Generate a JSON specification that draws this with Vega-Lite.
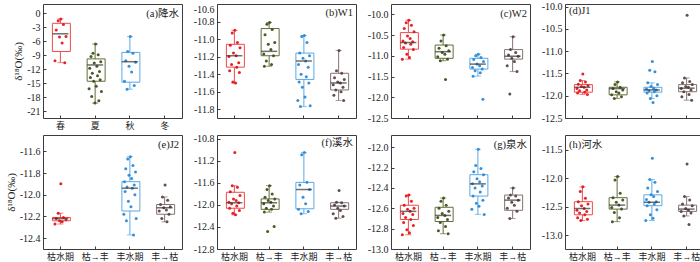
{
"$schema":"https://vega.github.io/schema/vega-lite/v6.json",
"padding":{"left":4,"top":1,"right":0,"bottom":0},
"background":"white",
"datasets":{
"box":[
{"p":"a","c":"春","lo":-10.6,"q1":-8.2,"med":-4.4,"q3":-2.15,"hi":-1.2},
{"p":"a","c":"夏","lo":-19.3,"q1":-14.6,"med":-11.1,"q3":-9.8,"hi":-6.6},
{"p":"a","c":"秋","lo":-16.3,"q1":-14.8,"med":-10.4,"q3":-8.4,"hi":-5.0},
{"p":"b","c":"枯水期","lo":-11.5,"q1":-11.32,"med":-11.19,"q3":-11.06,"hi":-10.9},
{"p":"b","c":"枯→丰","lo":-11.31,"q1":-11.19,"med":-11.14,"q3":-10.88,"hi":-10.81},
{"p":"b","c":"丰水期","lo":-11.77,"q1":-11.46,"med":-11.25,"q3":-11.16,"hi":-10.96},
{"p":"b","c":"丰→枯","lo":-11.7,"q1":-11.58,"med":-11.5,"q3":-11.39,"hi":-11.13},
{"p":"c","c":"枯水期","lo":-11.08,"q1":-10.84,"med":-10.68,"q3":-10.44,"hi":-10.14},
{"p":"c","c":"枯→丰","lo":-11.12,"q1":-11.06,"med":-10.9,"q3":-10.74,"hi":-10.5},
{"p":"c","c":"丰水期","lo":-11.49,"q1":-11.32,"med":-11.2,"q3":-11.06,"hi":-10.96},
{"p":"c","c":"丰→枯","lo":-11.38,"q1":-11.08,"med":-11.01,"q3":-10.85,"hi":-10.54},
{"p":"d","c":"枯水期","lo":-11.97,"q1":-11.92,"med":-11.81,"q3":-11.75,"hi":-11.66},
{"p":"d","c":"枯→丰","lo":-12.06,"q1":-11.98,"med":-11.84,"q3":-11.81,"hi":-11.69},
{"p":"d","c":"丰水期","lo":-12.06,"q1":-11.92,"med":-11.87,"q3":-11.81,"hi":-11.71},
{"p":"d","c":"丰→枯","lo":-12.1,"q1":-11.91,"med":-11.83,"q3":-11.75,"hi":-11.6},
{"p":"e","c":"枯水期","lo":-12.27,"q1":-12.24,"med":-12.22,"q3":-12.21,"hi":-12.17},
{"p":"e","c":"丰水期","lo":-12.37,"q1":-12.15,"med":-11.94,"q3":-11.88,"hi":-11.65},
{"p":"e","c":"丰→枯","lo":-12.25,"q1":-12.18,"med":-12.12,"q3":-12.09,"hi":-12.02},
{"p":"f","c":"枯水期","lo":-12.18,"q1":-12.06,"med":-11.96,"q3":-11.77,"hi":-11.65},
{"p":"f","c":"枯→丰","lo":-12.13,"q1":-12.08,"med":-11.96,"q3":-11.89,"hi":-11.65},
{"p":"f","c":"丰水期","lo":-12.16,"q1":-12.07,"med":-11.72,"q3":-11.59,"hi":-11.05},
{"p":"f","c":"丰→枯","lo":-12.24,"q1":-12.08,"med":-12.02,"q3":-11.96,"hi":-11.95},
{"p":"g","c":"枯水期","lo":-12.86,"q1":-12.71,"med":-12.63,"q3":-12.57,"hi":-12.47},
{"p":"g","c":"枯→丰","lo":-12.85,"q1":-12.73,"med":-12.67,"q3":-12.59,"hi":-12.5},
{"p":"g","c":"丰水期","lo":-12.66,"q1":-12.48,"med":-12.36,"q3":-12.27,"hi":-12.02},
{"p":"g","c":"丰→枯","lo":-12.7,"q1":-12.62,"med":-12.52,"q3":-12.47,"hi":-12.4},
{"p":"h","c":"枯水期","lo":-12.74,"q1":-12.64,"med":-12.53,"q3":-12.41,"hi":-12.15},
{"p":"h","c":"枯→丰","lo":-12.76,"q1":-12.54,"med":-12.47,"q3":-12.34,"hi":-11.97},
{"p":"h","c":"丰水期","lo":-12.74,"q1":-12.48,"med":-12.42,"q3":-12.29,"hi":-12.02},
{"p":"h","c":"丰→枯","lo":-12.66,"q1":-12.58,"med":-12.54,"q3":-12.47,"hi":-12.32}
],
"pts":[
{"p":"a","c":"春","i":1,"v":-1.2},{"p":"a","c":"春","i":2,"v":-1.6},{"p":"a","c":"春","i":3,"v":-2.4},{"p":"a","c":"春","i":4,"v":-3.6},{"p":"a","c":"春","i":5,"v":-5.0},{"p":"a","c":"春","i":6,"v":-5.1},{"p":"a","c":"春","i":7,"v":-6.4},{"p":"a","c":"春","i":8,"v":-10.2},{"p":"a","c":"春","i":9,"v":-10.6},
{"p":"a","c":"夏","i":1,"v":-6.6},{"p":"a","c":"夏","i":2,"v":-8.6},{"p":"a","c":"夏","i":3,"v":-8.9},{"p":"a","c":"夏","i":4,"v":-9.3},{"p":"a","c":"夏","i":5,"v":-10.4},{"p":"a","c":"夏","i":6,"v":-10.7},{"p":"a","c":"夏","i":7,"v":-11.4},{"p":"a","c":"夏","i":8,"v":-11.8},{"p":"a","c":"夏","i":9,"v":-12.5},{"p":"a","c":"夏","i":10,"v":-12.9},{"p":"a","c":"夏","i":11,"v":-13.4},{"p":"a","c":"夏","i":12,"v":-13.8},{"p":"a","c":"夏","i":13,"v":-14.3},{"p":"a","c":"夏","i":14,"v":-14.6},{"p":"a","c":"夏","i":15,"v":-15.7},{"p":"a","c":"夏","i":16,"v":-16.2},{"p":"a","c":"夏","i":17,"v":-16.8},{"p":"a","c":"夏","i":18,"v":-17.9},{"p":"a","c":"夏","i":19,"v":-18.8},{"p":"a","c":"夏","i":20,"v":-19.3},
{"p":"a","c":"秋","i":1,"v":-5.0},{"p":"a","c":"秋","i":2,"v":-8.2},{"p":"a","c":"秋","i":3,"v":-8.6},{"p":"a","c":"秋","i":4,"v":-10.2},{"p":"a","c":"秋","i":5,"v":-10.5},{"p":"a","c":"秋","i":6,"v":-11.4},{"p":"a","c":"秋","i":7,"v":-12.6},{"p":"a","c":"秋","i":8,"v":-14.6},{"p":"a","c":"秋","i":9,"v":-15.5},{"p":"a","c":"秋","i":10,"v":-16.3},
{"p":"b","c":"枯水期","i":1,"v":-10.9},{"p":"b","c":"枯水期","i":2,"v":-10.93},{"p":"b","c":"枯水期","i":3,"v":-11.04},{"p":"b","c":"枯水期","i":4,"v":-11.07},{"p":"b","c":"枯水期","i":5,"v":-11.1},{"p":"b","c":"枯水期","i":6,"v":-11.16},{"p":"b","c":"枯水期","i":7,"v":-11.19},{"p":"b","c":"枯水期","i":8,"v":-11.2},{"p":"b","c":"枯水期","i":9,"v":-11.27},{"p":"b","c":"枯水期","i":10,"v":-11.29},{"p":"b","c":"枯水期","i":11,"v":-11.32},{"p":"b","c":"枯水期","i":12,"v":-11.36},{"p":"b","c":"枯水期","i":13,"v":-11.38},{"p":"b","c":"枯水期","i":14,"v":-11.49},{"p":"b","c":"枯水期","i":15,"v":-11.5},
{"p":"b","c":"枯→丰","i":1,"v":-10.81},{"p":"b","c":"枯→丰","i":2,"v":-10.83},{"p":"b","c":"枯→丰","i":3,"v":-10.89},{"p":"b","c":"枯→丰","i":4,"v":-10.95},{"p":"b","c":"枯→丰","i":5,"v":-11.04},{"p":"b","c":"枯→丰","i":6,"v":-11.06},{"p":"b","c":"枯→丰","i":7,"v":-11.12},{"p":"b","c":"枯→丰","i":8,"v":-11.17},{"p":"b","c":"枯→丰","i":9,"v":-11.19},{"p":"b","c":"枯→丰","i":10,"v":-11.25},{"p":"b","c":"枯→丰","i":11,"v":-11.29},{"p":"b","c":"枯→丰","i":12,"v":-11.31},
{"p":"b","c":"丰水期","i":1,"v":-10.96},{"p":"b","c":"丰水期","i":2,"v":-10.97},{"p":"b","c":"丰水期","i":3,"v":-11.04},{"p":"b","c":"丰水期","i":4,"v":-11.16},{"p":"b","c":"丰水期","i":5,"v":-11.19},{"p":"b","c":"丰水期","i":6,"v":-11.22},{"p":"b","c":"丰水期","i":7,"v":-11.25},{"p":"b","c":"丰水期","i":8,"v":-11.29},{"p":"b","c":"丰水期","i":9,"v":-11.32},{"p":"b","c":"丰水期","i":10,"v":-11.4},{"p":"b","c":"丰水期","i":11,"v":-11.43},{"p":"b","c":"丰水期","i":12,"v":-11.49},{"p":"b","c":"丰水期","i":13,"v":-11.5},{"p":"b","c":"丰水期","i":14,"v":-11.55},{"p":"b","c":"丰水期","i":15,"v":-11.66},{"p":"b","c":"丰水期","i":16,"v":-11.7},{"p":"b","c":"丰水期","i":17,"v":-11.76},{"p":"b","c":"丰水期","i":18,"v":-11.77},
{"p":"b","c":"丰→枯","i":1,"v":-11.13},{"p":"b","c":"丰→枯","i":2,"v":-11.36},{"p":"b","c":"丰→枯","i":3,"v":-11.39},{"p":"b","c":"丰→枯","i":4,"v":-11.44},{"p":"b","c":"丰→枯","i":5,"v":-11.46},{"p":"b","c":"丰→枯","i":6,"v":-11.49},{"p":"b","c":"丰→枯","i":7,"v":-11.5},{"p":"b","c":"丰→枯","i":8,"v":-11.52},{"p":"b","c":"丰→枯","i":9,"v":-11.55},{"p":"b","c":"丰→枯","i":10,"v":-11.58},{"p":"b","c":"丰→枯","i":11,"v":-11.6},{"p":"b","c":"丰→枯","i":12,"v":-11.64},{"p":"b","c":"丰→枯","i":13,"v":-11.7},
{"p":"c","c":"枯水期","i":1,"v":-10.14},{"p":"c","c":"枯水期","i":2,"v":-10.2},{"p":"c","c":"枯水期","i":3,"v":-10.26},{"p":"c","c":"枯水期","i":4,"v":-10.34},{"p":"c","c":"枯水期","i":5,"v":-10.42},{"p":"c","c":"枯水期","i":6,"v":-10.52},{"p":"c","c":"枯水期","i":7,"v":-10.58},{"p":"c","c":"枯水期","i":8,"v":-10.64},{"p":"c","c":"枯水期","i":9,"v":-10.66},{"p":"c","c":"枯水期","i":10,"v":-10.69},{"p":"c","c":"枯水期","i":11,"v":-10.72},{"p":"c","c":"枯水期","i":12,"v":-10.8},{"p":"c","c":"枯水期","i":13,"v":-10.85},{"p":"c","c":"枯水期","i":14,"v":-10.96},{"p":"c","c":"枯水期","i":15,"v":-11.04},{"p":"c","c":"枯水期","i":16,"v":-11.08},
{"p":"c","c":"枯→丰","i":1,"v":-10.5},{"p":"c","c":"枯→丰","i":2,"v":-10.64},{"p":"c","c":"枯→丰","i":3,"v":-10.76},{"p":"c","c":"枯→丰","i":4,"v":-10.82},{"p":"c","c":"枯→丰","i":5,"v":-10.88},{"p":"c","c":"枯→丰","i":6,"v":-10.92},{"p":"c","c":"枯→丰","i":7,"v":-10.96},{"p":"c","c":"枯→丰","i":8,"v":-11.02},{"p":"c","c":"枯→丰","i":9,"v":-11.08},{"p":"c","c":"枯→丰","i":10,"v":-11.12},{"p":"c","c":"枯→丰","i":11,"v":-11.57},
{"p":"c","c":"丰水期","i":1,"v":-10.96},{"p":"c","c":"丰水期","i":2,"v":-11.0},{"p":"c","c":"丰水期","i":3,"v":-11.04},{"p":"c","c":"丰水期","i":4,"v":-11.09},{"p":"c","c":"丰水期","i":5,"v":-11.14},{"p":"c","c":"丰水期","i":6,"v":-11.2},{"p":"c","c":"丰水期","i":7,"v":-11.24},{"p":"c","c":"丰水期","i":8,"v":-11.28},{"p":"c","c":"丰水期","i":9,"v":-11.32},{"p":"c","c":"丰水期","i":10,"v":-11.36},{"p":"c","c":"丰水期","i":11,"v":-11.41},{"p":"c","c":"丰水期","i":12,"v":-11.49},{"p":"c","c":"丰水期","i":13,"v":-12.05},
{"p":"c","c":"丰→枯","i":1,"v":-10.54},{"p":"c","c":"丰→枯","i":2,"v":-10.85},{"p":"c","c":"丰→枯","i":3,"v":-10.92},{"p":"c","c":"丰→枯","i":4,"v":-10.98},{"p":"c","c":"丰→枯","i":5,"v":-11.01},{"p":"c","c":"丰→枯","i":6,"v":-11.06},{"p":"c","c":"丰→枯","i":7,"v":-11.14},{"p":"c","c":"丰→枯","i":8,"v":-11.24},{"p":"c","c":"丰→枯","i":9,"v":-11.38},{"p":"c","c":"丰→枯","i":10,"v":-11.92},
{"p":"d","c":"枯水期","i":1,"v":-11.51},{"p":"d","c":"枯水期","i":2,"v":-11.66},{"p":"d","c":"枯水期","i":3,"v":-11.69},{"p":"d","c":"枯水期","i":4,"v":-11.74},{"p":"d","c":"枯水期","i":5,"v":-11.77},{"p":"d","c":"枯水期","i":6,"v":-11.79},{"p":"d","c":"枯水期","i":7,"v":-11.81},{"p":"d","c":"枯水期","i":8,"v":-11.84},{"p":"d","c":"枯水期","i":9,"v":-11.87},{"p":"d","c":"枯水期","i":10,"v":-11.89},{"p":"d","c":"枯水期","i":11,"v":-11.92},{"p":"d","c":"枯水期","i":12,"v":-11.94},{"p":"d","c":"枯水期","i":13,"v":-11.97},
{"p":"d","c":"枯→丰","i":1,"v":-11.69},{"p":"d","c":"枯→丰","i":2,"v":-11.75},{"p":"d","c":"枯→丰","i":3,"v":-11.81},{"p":"d","c":"枯→丰","i":4,"v":-11.84},{"p":"d","c":"枯→丰","i":5,"v":-11.87},{"p":"d","c":"枯→丰","i":6,"v":-11.91},{"p":"d","c":"枯→丰","i":7,"v":-11.94},{"p":"d","c":"枯→丰","i":8,"v":-11.98},{"p":"d","c":"枯→丰","i":9,"v":-12.02},{"p":"d","c":"枯→丰","i":10,"v":-12.06},
{"p":"d","c":"丰水期","i":1,"v":-11.23},{"p":"d","c":"丰水期","i":2,"v":-11.43},{"p":"d","c":"丰水期","i":3,"v":-11.46},{"p":"d","c":"丰水期","i":4,"v":-11.71},{"p":"d","c":"丰水期","i":5,"v":-11.75},{"p":"d","c":"丰水期","i":6,"v":-11.79},{"p":"d","c":"丰水期","i":7,"v":-11.83},{"p":"d","c":"丰水期","i":8,"v":-11.85},{"p":"d","c":"丰水期","i":9,"v":-11.87},{"p":"d","c":"丰水期","i":10,"v":-11.89},{"p":"d","c":"丰水期","i":11,"v":-11.91},{"p":"d","c":"丰水期","i":12,"v":-11.94},{"p":"d","c":"丰水期","i":13,"v":-12.0},{"p":"d","c":"丰水期","i":14,"v":-12.06},{"p":"d","c":"丰水期","i":15,"v":-12.15},
{"p":"d","c":"丰→枯","i":1,"v":-10.19},{"p":"d","c":"丰→枯","i":2,"v":-11.6},{"p":"d","c":"丰→枯","i":3,"v":-11.68},{"p":"d","c":"丰→枯","i":4,"v":-11.71},{"p":"d","c":"丰→枯","i":5,"v":-11.75},{"p":"d","c":"丰→枯","i":6,"v":-11.79},{"p":"d","c":"丰→枯","i":7,"v":-11.81},{"p":"d","c":"丰→枯","i":8,"v":-11.84},{"p":"d","c":"丰→枯","i":9,"v":-11.87},{"p":"d","c":"丰→枯","i":10,"v":-11.91},{"p":"d","c":"丰→枯","i":11,"v":-11.97},{"p":"d","c":"丰→枯","i":12,"v":-12.02},{"p":"d","c":"丰→枯","i":13,"v":-12.1},
{"p":"e","c":"枯水期","i":1,"v":-11.9},{"p":"e","c":"枯水期","i":2,"v":-12.17},{"p":"e","c":"枯水期","i":3,"v":-12.21},{"p":"e","c":"枯水期","i":4,"v":-12.22},{"p":"e","c":"枯水期","i":5,"v":-12.23},{"p":"e","c":"枯水期","i":6,"v":-12.24},{"p":"e","c":"枯水期","i":7,"v":-12.25},{"p":"e","c":"枯水期","i":8,"v":-12.27},
{"p":"e","c":"丰水期","i":1,"v":-11.65},{"p":"e","c":"丰水期","i":2,"v":-11.67},{"p":"e","c":"丰水期","i":3,"v":-11.73},{"p":"e","c":"丰水期","i":4,"v":-11.76},{"p":"e","c":"丰水期","i":5,"v":-11.79},{"p":"e","c":"丰水期","i":6,"v":-11.82},{"p":"e","c":"丰水期","i":7,"v":-11.85},{"p":"e","c":"丰水期","i":8,"v":-11.88},{"p":"e","c":"丰水期","i":9,"v":-11.91},{"p":"e","c":"丰水期","i":10,"v":-11.93},{"p":"e","c":"丰水期","i":11,"v":-11.94},{"p":"e","c":"丰水期","i":12,"v":-11.97},{"p":"e","c":"丰水期","i":13,"v":-12.0},{"p":"e","c":"丰水期","i":14,"v":-12.06},{"p":"e","c":"丰水期","i":15,"v":-12.11},{"p":"e","c":"丰水期","i":16,"v":-12.18},{"p":"e","c":"丰水期","i":17,"v":-12.22},{"p":"e","c":"丰水期","i":18,"v":-12.24},{"p":"e","c":"丰水期","i":19,"v":-12.37},
{"p":"e","c":"丰→枯","i":1,"v":-11.91},{"p":"e","c":"丰→枯","i":2,"v":-12.02},{"p":"e","c":"丰→枯","i":3,"v":-12.05},{"p":"e","c":"丰→枯","i":4,"v":-12.09},{"p":"e","c":"丰→枯","i":5,"v":-12.11},{"p":"e","c":"丰→枯","i":6,"v":-12.12},{"p":"e","c":"丰→枯","i":7,"v":-12.14},{"p":"e","c":"丰→枯","i":8,"v":-12.15},{"p":"e","c":"丰→枯","i":9,"v":-12.18},{"p":"e","c":"丰→枯","i":10,"v":-12.22},{"p":"e","c":"丰→枯","i":11,"v":-12.25},
{"p":"f","c":"枯水期","i":1,"v":-11.05},{"p":"f","c":"枯水期","i":2,"v":-11.65},{"p":"f","c":"枯水期","i":3,"v":-11.68},{"p":"f","c":"枯水期","i":4,"v":-11.76},{"p":"f","c":"枯水期","i":5,"v":-11.83},{"p":"f","c":"枯水期","i":6,"v":-11.89},{"p":"f","c":"枯水期","i":7,"v":-11.92},{"p":"f","c":"枯水期","i":8,"v":-11.95},{"p":"f","c":"枯水期","i":9,"v":-11.96},{"p":"f","c":"枯水期","i":10,"v":-11.98},{"p":"f","c":"枯水期","i":11,"v":-12.02},{"p":"f","c":"枯水期","i":12,"v":-12.06},{"p":"f","c":"枯水期","i":13,"v":-12.1},{"p":"f","c":"枯水期","i":14,"v":-12.15},{"p":"f","c":"枯水期","i":15,"v":-12.18},
{"p":"f","c":"枯→丰","i":1,"v":-11.65},{"p":"f","c":"枯→丰","i":2,"v":-11.72},{"p":"f","c":"枯→丰","i":3,"v":-11.8},{"p":"f","c":"枯→丰","i":4,"v":-11.86},{"p":"f","c":"枯→丰","i":5,"v":-11.89},{"p":"f","c":"枯→丰","i":6,"v":-11.92},{"p":"f","c":"枯→丰","i":7,"v":-11.95},{"p":"f","c":"枯→丰","i":8,"v":-11.98},{"p":"f","c":"枯→丰","i":9,"v":-12.02},{"p":"f","c":"枯→丰","i":10,"v":-12.06},{"p":"f","c":"枯→丰","i":11,"v":-12.08},{"p":"f","c":"枯→丰","i":12,"v":-12.13},{"p":"f","c":"枯→丰","i":13,"v":-12.39},{"p":"f","c":"枯→丰","i":14,"v":-12.48},
{"p":"f","c":"丰水期","i":1,"v":-11.05},{"p":"f","c":"丰水期","i":2,"v":-11.09},{"p":"f","c":"丰水期","i":3,"v":-11.59},{"p":"f","c":"丰水期","i":4,"v":-11.64},{"p":"f","c":"丰水期","i":5,"v":-11.72},{"p":"f","c":"丰水期","i":6,"v":-11.86},{"p":"f","c":"丰水期","i":7,"v":-11.98},{"p":"f","c":"丰水期","i":8,"v":-12.08},{"p":"f","c":"丰水期","i":9,"v":-12.12},{"p":"f","c":"丰水期","i":10,"v":-12.16},
{"p":"f","c":"丰→枯","i":1,"v":-11.74},{"p":"f","c":"丰→枯","i":2,"v":-11.95},{"p":"f","c":"丰→枯","i":3,"v":-11.96},{"p":"f","c":"丰→枯","i":4,"v":-12.0},{"p":"f","c":"丰→枯","i":5,"v":-12.02},{"p":"f","c":"丰→枯","i":6,"v":-12.06},{"p":"f","c":"丰→枯","i":7,"v":-12.1},{"p":"f","c":"丰→枯","i":8,"v":-12.16},{"p":"f","c":"丰→枯","i":9,"v":-12.21},{"p":"f","c":"丰→枯","i":10,"v":-12.24},
{"p":"g","c":"枯水期","i":1,"v":-12.47},{"p":"g","c":"枯水期","i":2,"v":-12.48},{"p":"g","c":"枯水期","i":3,"v":-12.53},{"p":"g","c":"枯水期","i":4,"v":-12.57},{"p":"g","c":"枯水期","i":5,"v":-12.6},{"p":"g","c":"枯水期","i":6,"v":-12.61},{"p":"g","c":"枯水期","i":7,"v":-12.63},{"p":"g","c":"枯水期","i":8,"v":-12.65},{"p":"g","c":"枯水期","i":9,"v":-12.66},{"p":"g","c":"枯水期","i":10,"v":-12.69},{"p":"g","c":"枯水期","i":11,"v":-12.71},{"p":"g","c":"枯水期","i":12,"v":-12.74},{"p":"g","c":"枯水期","i":13,"v":-12.77},{"p":"g","c":"枯水期","i":14,"v":-12.81},{"p":"g","c":"枯水期","i":15,"v":-12.84},{"p":"g","c":"枯水期","i":16,"v":-12.86},
{"p":"g","c":"枯→丰","i":1,"v":-12.5},{"p":"g","c":"枯→丰","i":2,"v":-12.53},{"p":"g","c":"枯→丰","i":3,"v":-12.57},{"p":"g","c":"枯→丰","i":4,"v":-12.6},{"p":"g","c":"枯→丰","i":5,"v":-12.63},{"p":"g","c":"枯→丰","i":6,"v":-12.65},{"p":"g","c":"枯→丰","i":7,"v":-12.67},{"p":"g","c":"枯→丰","i":8,"v":-12.69},{"p":"g","c":"枯→丰","i":9,"v":-12.71},{"p":"g","c":"枯→丰","i":10,"v":-12.74},{"p":"g","c":"枯→丰","i":11,"v":-12.78},{"p":"g","c":"枯→丰","i":12,"v":-12.82},{"p":"g","c":"枯→丰","i":13,"v":-12.85},
{"p":"g","c":"丰水期","i":1,"v":-12.02},{"p":"g","c":"丰水期","i":2,"v":-12.18},{"p":"g","c":"丰水期","i":3,"v":-12.21},{"p":"g","c":"丰水期","i":4,"v":-12.24},{"p":"g","c":"丰水期","i":5,"v":-12.27},{"p":"g","c":"丰水期","i":6,"v":-12.31},{"p":"g","c":"丰水期","i":7,"v":-12.34},{"p":"g","c":"丰水期","i":8,"v":-12.36},{"p":"g","c":"丰水期","i":9,"v":-12.38},{"p":"g","c":"丰水期","i":10,"v":-12.4},{"p":"g","c":"丰水期","i":11,"v":-12.44},{"p":"g","c":"丰水期","i":12,"v":-12.48},{"p":"g","c":"丰水期","i":13,"v":-12.52},{"p":"g","c":"丰水期","i":14,"v":-12.55},{"p":"g","c":"丰水期","i":15,"v":-12.58},{"p":"g","c":"丰水期","i":16,"v":-12.61},{"p":"g","c":"丰水期","i":17,"v":-12.66},
{"p":"g","c":"丰→枯","i":1,"v":-12.4},{"p":"g","c":"丰→枯","i":2,"v":-12.47},{"p":"g","c":"丰→枯","i":3,"v":-12.48},{"p":"g","c":"丰→枯","i":4,"v":-12.5},{"p":"g","c":"丰→枯","i":5,"v":-12.52},{"p":"g","c":"丰→枯","i":6,"v":-12.54},{"p":"g","c":"丰→枯","i":7,"v":-12.57},{"p":"g","c":"丰→枯","i":8,"v":-12.6},{"p":"g","c":"丰→枯","i":9,"v":-12.63},{"p":"g","c":"丰→枯","i":10,"v":-12.7},
{"p":"h","c":"枯水期","i":1,"v":-12.15},{"p":"h","c":"枯水期","i":2,"v":-12.23},{"p":"h","c":"枯水期","i":3,"v":-12.35},{"p":"h","c":"枯水期","i":4,"v":-12.41},{"p":"h","c":"枯水期","i":5,"v":-12.45},{"p":"h","c":"枯水期","i":6,"v":-12.48},{"p":"h","c":"枯水期","i":7,"v":-12.53},{"p":"h","c":"枯水期","i":8,"v":-12.56},{"p":"h","c":"枯水期","i":9,"v":-12.58},{"p":"h","c":"枯水期","i":10,"v":-12.61},{"p":"h","c":"枯水期","i":11,"v":-12.64},{"p":"h","c":"枯水期","i":12,"v":-12.69},{"p":"h","c":"枯水期","i":13,"v":-12.72},{"p":"h","c":"枯水期","i":14,"v":-12.74},
{"p":"h","c":"枯→丰","i":1,"v":-11.97},{"p":"h","c":"枯→丰","i":2,"v":-12.03},{"p":"h","c":"枯→丰","i":3,"v":-12.26},{"p":"h","c":"枯→丰","i":4,"v":-12.34},{"p":"h","c":"枯→丰","i":5,"v":-12.38},{"p":"h","c":"枯→丰","i":6,"v":-12.42},{"p":"h","c":"枯→丰","i":7,"v":-12.47},{"p":"h","c":"枯→丰","i":8,"v":-12.51},{"p":"h","c":"枯→丰","i":9,"v":-12.54},{"p":"h","c":"枯→丰","i":10,"v":-12.6},{"p":"h","c":"枯→丰","i":11,"v":-12.69},{"p":"h","c":"枯→丰","i":12,"v":-12.76},
{"p":"h","c":"丰水期","i":1,"v":-11.65},{"p":"h","c":"丰水期","i":2,"v":-12.02},{"p":"h","c":"丰水期","i":3,"v":-12.07},{"p":"h","c":"丰水期","i":4,"v":-12.17},{"p":"h","c":"丰水期","i":5,"v":-12.23},{"p":"h","c":"丰水期","i":6,"v":-12.29},{"p":"h","c":"丰水期","i":7,"v":-12.32},{"p":"h","c":"丰水期","i":8,"v":-12.37},{"p":"h","c":"丰水期","i":9,"v":-12.41},{"p":"h","c":"丰水期","i":10,"v":-12.42},{"p":"h","c":"丰水期","i":11,"v":-12.45},{"p":"h","c":"丰水期","i":12,"v":-12.48},{"p":"h","c":"丰水期","i":13,"v":-12.55},{"p":"h","c":"丰水期","i":14,"v":-12.64},{"p":"h","c":"丰水期","i":15,"v":-12.7},{"p":"h","c":"丰水期","i":16,"v":-12.74},
{"p":"h","c":"丰→枯","i":1,"v":-11.75},{"p":"h","c":"丰→枯","i":2,"v":-12.32},{"p":"h","c":"丰→枯","i":3,"v":-12.38},{"p":"h","c":"丰→枯","i":4,"v":-12.45},{"p":"h","c":"丰→枯","i":5,"v":-12.48},{"p":"h","c":"丰→枯","i":6,"v":-12.53},{"p":"h","c":"丰→枯","i":7,"v":-12.56},{"p":"h","c":"丰→枯","i":8,"v":-12.58},{"p":"h","c":"丰→枯","i":9,"v":-12.61},{"p":"h","c":"丰→枯","i":10,"v":-12.66},{"p":"h","c":"丰→枯","i":11,"v":-12.81}
]
},
"columns":4,
"spacing":{"row":17,"column":35},
"bounds":"flush",
"concat":[
{"width":139,"height":114,
"title":{"text":"(a)降水","anchor":"end","frame":"group","offset":-15,"dx":-3},
"encoding":{"x":{"field":"c","type":"nominal","sort":null,"scale":{"domain":["春","夏","秋","冬"],"paddingInner":0,"paddingOuter":0},"axis":{"title":null,"labelAngle":0}}},
"layer":[
{"data":{"name":"box"},"transform":[{"filter":"datum.p=='a'"}],"mark":{"type":"rule","strokeWidth":1},"encoding":{"y":{"field":"lo","type":"quantitative","scale":{"domain":[-22.5,2],"nice":false,"zero":false},"axis":{"title":"δ¹⁸O(‰)","values":[0,-3,-6,-9,-12,-15,-18,-21],"tickCount":30,"format":"d","labelOverlap":false}},"y2":{"field":"hi"},"stroke":{"field":"c","type":"nominal","scale":{"domain":["春","夏","秋","冬","枯水期","枯→丰","丰水期","丰→枯"],"range":["#f0494c","#5f6e3c","#5aa8e6","#857272","#f0494c","#5f6e3c","#5aa8e6","#857272"]},"legend":null}}},
{"data":{"name":"box"},"transform":[{"filter":"datum.p=='a'"}],"mark":{"type":"tick","thickness":1,"size":6},"encoding":{"y":{"field":"lo","type":"quantitative"},"fill":{"field":"c","type":"nominal","scale":{"domain":["春","夏","秋","冬","枯水期","枯→丰","丰水期","丰→枯"],"range":["#f0494c","#5f6e3c","#5aa8e6","#857272","#f0494c","#5f6e3c","#5aa8e6","#857272"]},"legend":null}}},
{"data":{"name":"box"},"transform":[{"filter":"datum.p=='a'"}],"mark":{"type":"tick","thickness":1,"size":6},"encoding":{"y":{"field":"hi","type":"quantitative"},"fill":{"field":"c","type":"nominal","legend":null}}},
{"data":{"name":"box"},"transform":[{"filter":"datum.p=='a'"}],"mark":{"type":"bar","fill":"white","strokeWidth":1,"width":{"band":0.46}},"encoding":{"y":{"field":"q1","type":"quantitative"},"y2":{"field":"q3"},"stroke":{"field":"c","type":"nominal","legend":null}}},
{"data":{"name":"pts"},"transform":[{"filter":"datum.p=='a'"}],"mark":{"type":"circle","size":9,"opacity":0.95},"encoding":{"y":{"field":"v","type":"quantitative"},"xOffset":{"field":"i","type":"nominal","scale":{"domain":[16,8,12,4,18,10,2,14,6,20,1,15,7,11,3,19,9,13,5,17],"range":[11,24]}},"color":{"field":"c","type":"nominal","scale":{"domain":["春","夏","秋","冬","枯水期","枯→丰","丰水期","丰→枯"],"range":["#e3171c","#3f5217","#2a8ad8","#5a4545","#e3171c","#3f5217","#2a8ad8","#5a4545"]},"legend":null}}},
{"data":{"name":"box"},"transform":[{"filter":"datum.p=='a'"}],"mark":{"type":"tick","thickness":1.5,"size":16,"color":"#333333"},"encoding":{"y":{"field":"med","type":"quantitative"}}}
]},
{"width":139,"height":114,
"title":{"text":"(b)W1","anchor":"end","frame":"group","offset":-15,"dx":-3},
"encoding":{"x":{"field":"c","type":"nominal","sort":null,"scale":{"domain":["枯水期","枯→丰","丰水期","丰→枯"],"paddingInner":0,"paddingOuter":0},"axis":{"title":null,"labels":false}}},
"layer":[
{"data":{"name":"box"},"transform":[{"filter":"datum.p=='b'"}],"mark":{"type":"rule","strokeWidth":1},"encoding":{"y":{"field":"lo","type":"quantitative","scale":{"domain":[-11.9,-10.6],"nice":false,"zero":false},"axis":{"title":null,"values":[-10.6,-10.8,-11.0,-11.2,-11.4,-11.6,-11.8],"tickCount":30,"format":".1f","labelFlush":true,"labelOverlap":false}},"y2":{"field":"hi"},"stroke":{"field":"c","type":"nominal","scale":{"domain":["春","夏","秋","冬","枯水期","枯→丰","丰水期","丰→枯"],"range":["#f0494c","#5f6e3c","#5aa8e6","#857272","#f0494c","#5f6e3c","#5aa8e6","#857272"]},"legend":null}}},
{"data":{"name":"box"},"transform":[{"filter":"datum.p=='b'"}],"mark":{"type":"tick","thickness":1,"size":6},"encoding":{"y":{"field":"lo","type":"quantitative"},"fill":{"field":"c","type":"nominal","scale":{"domain":["春","夏","秋","冬","枯水期","枯→丰","丰水期","丰→枯"],"range":["#f0494c","#5f6e3c","#5aa8e6","#857272","#f0494c","#5f6e3c","#5aa8e6","#857272"]},"legend":null}}},
{"data":{"name":"box"},"transform":[{"filter":"datum.p=='b'"}],"mark":{"type":"tick","thickness":1,"size":6},"encoding":{"y":{"field":"hi","type":"quantitative"},"fill":{"field":"c","type":"nominal","legend":null}}},
{"data":{"name":"box"},"transform":[{"filter":"datum.p=='b'"}],"mark":{"type":"bar","fill":"white","strokeWidth":1,"width":{"band":0.46}},"encoding":{"y":{"field":"q1","type":"quantitative"},"y2":{"field":"q3"},"stroke":{"field":"c","type":"nominal","legend":null}}},
{"data":{"name":"pts"},"transform":[{"filter":"datum.p=='b'"}],"mark":{"type":"circle","size":9,"opacity":0.95},"encoding":{"y":{"field":"v","type":"quantitative"},"xOffset":{"field":"i","type":"nominal","scale":{"domain":[16,8,12,4,18,10,2,14,6,20,1,15,7,11,3,19,9,13,5,17],"range":[11,24]}},"color":{"field":"c","type":"nominal","scale":{"domain":["春","夏","秋","冬","枯水期","枯→丰","丰水期","丰→枯"],"range":["#e3171c","#3f5217","#2a8ad8","#5a4545","#e3171c","#3f5217","#2a8ad8","#5a4545"]},"legend":null}}},
{"data":{"name":"box"},"transform":[{"filter":"datum.p=='b'"}],"mark":{"type":"tick","thickness":1.5,"size":16,"color":"#333333"},"encoding":{"y":{"field":"med","type":"quantitative"}}}
]},
{"width":139,"height":114,
"title":{"text":"(c)W2","anchor":"end","frame":"group","offset":-15,"dx":-3},
"encoding":{"x":{"field":"c","type":"nominal","sort":null,"scale":{"domain":["枯水期","枯→丰","丰水期","丰→枯"],"paddingInner":0,"paddingOuter":0},"axis":{"title":null,"labels":false}}},
"layer":[
{"data":{"name":"box"},"transform":[{"filter":"datum.p=='c'"}],"mark":{"type":"rule","strokeWidth":1},"encoding":{"y":{"field":"lo","type":"quantitative","scale":{"domain":[-12.5,-9.75],"nice":false,"zero":false},"axis":{"title":null,"values":[-10.0,-10.5,-11.0,-11.5,-12.0,-12.5],"tickCount":30,"format":".1f","labelOverlap":false}},"y2":{"field":"hi"},"stroke":{"field":"c","type":"nominal","scale":{"domain":["春","夏","秋","冬","枯水期","枯→丰","丰水期","丰→枯"],"range":["#f0494c","#5f6e3c","#5aa8e6","#857272","#f0494c","#5f6e3c","#5aa8e6","#857272"]},"legend":null}}},
{"data":{"name":"box"},"transform":[{"filter":"datum.p=='c'"}],"mark":{"type":"tick","thickness":1,"size":6},"encoding":{"y":{"field":"lo","type":"quantitative"},"fill":{"field":"c","type":"nominal","scale":{"domain":["春","夏","秋","冬","枯水期","枯→丰","丰水期","丰→枯"],"range":["#f0494c","#5f6e3c","#5aa8e6","#857272","#f0494c","#5f6e3c","#5aa8e6","#857272"]},"legend":null}}},
{"data":{"name":"box"},"transform":[{"filter":"datum.p=='c'"}],"mark":{"type":"tick","thickness":1,"size":6},"encoding":{"y":{"field":"hi","type":"quantitative"},"fill":{"field":"c","type":"nominal","legend":null}}},
{"data":{"name":"box"},"transform":[{"filter":"datum.p=='c'"}],"mark":{"type":"bar","fill":"white","strokeWidth":1,"width":{"band":0.46}},"encoding":{"y":{"field":"q1","type":"quantitative"},"y2":{"field":"q3"},"stroke":{"field":"c","type":"nominal","legend":null}}},
{"data":{"name":"pts"},"transform":[{"filter":"datum.p=='c'"}],"mark":{"type":"circle","size":9,"opacity":0.95},"encoding":{"y":{"field":"v","type":"quantitative"},"xOffset":{"field":"i","type":"nominal","scale":{"domain":[16,8,12,4,18,10,2,14,6,20,1,15,7,11,3,19,9,13,5,17],"range":[11,24]}},"color":{"field":"c","type":"nominal","scale":{"domain":["春","夏","秋","冬","枯水期","枯→丰","丰水期","丰→枯"],"range":["#e3171c","#3f5217","#2a8ad8","#5a4545","#e3171c","#3f5217","#2a8ad8","#5a4545"]},"legend":null}}},
{"data":{"name":"box"},"transform":[{"filter":"datum.p=='c'"}],"mark":{"type":"tick","thickness":1.5,"size":16,"color":"#333333"},"encoding":{"y":{"field":"med","type":"quantitative"}}}
]},
{"width":139,"height":114,
"title":{"text":"(d)J1","anchor":"start","frame":"group","offset":-15,"dx":4},
"encoding":{"x":{"field":"c","type":"nominal","sort":null,"scale":{"domain":["枯水期","枯→丰","丰水期","丰→枯"],"paddingInner":0,"paddingOuter":0},"axis":{"title":null,"labels":false}}},
"layer":[
{"data":{"name":"box"},"transform":[{"filter":"datum.p=='d'"}],"mark":{"type":"rule","strokeWidth":1},"encoding":{"y":{"field":"lo","type":"quantitative","scale":{"domain":[-12.5,-9.94],"nice":false,"zero":false},"axis":{"title":null,"values":[-10.0,-10.5,-11.0,-11.5,-12.0,-12.5],"tickCount":30,"format":".1f","labelOverlap":false}},"y2":{"field":"hi"},"stroke":{"field":"c","type":"nominal","scale":{"domain":["春","夏","秋","冬","枯水期","枯→丰","丰水期","丰→枯"],"range":["#f0494c","#5f6e3c","#5aa8e6","#857272","#f0494c","#5f6e3c","#5aa8e6","#857272"]},"legend":null}}},
{"data":{"name":"box"},"transform":[{"filter":"datum.p=='d'"}],"mark":{"type":"tick","thickness":1,"size":6},"encoding":{"y":{"field":"lo","type":"quantitative"},"fill":{"field":"c","type":"nominal","scale":{"domain":["春","夏","秋","冬","枯水期","枯→丰","丰水期","丰→枯"],"range":["#f0494c","#5f6e3c","#5aa8e6","#857272","#f0494c","#5f6e3c","#5aa8e6","#857272"]},"legend":null}}},
{"data":{"name":"box"},"transform":[{"filter":"datum.p=='d'"}],"mark":{"type":"tick","thickness":1,"size":6},"encoding":{"y":{"field":"hi","type":"quantitative"},"fill":{"field":"c","type":"nominal","legend":null}}},
{"data":{"name":"box"},"transform":[{"filter":"datum.p=='d'"}],"mark":{"type":"bar","fill":"white","strokeWidth":1,"width":{"band":0.46}},"encoding":{"y":{"field":"q1","type":"quantitative"},"y2":{"field":"q3"},"stroke":{"field":"c","type":"nominal","legend":null}}},
{"data":{"name":"pts"},"transform":[{"filter":"datum.p=='d'"}],"mark":{"type":"circle","size":9,"opacity":0.95},"encoding":{"y":{"field":"v","type":"quantitative"},"xOffset":{"field":"i","type":"nominal","scale":{"domain":[16,8,12,4,18,10,2,14,6,20,1,15,7,11,3,19,9,13,5,17],"range":[11,24]}},"color":{"field":"c","type":"nominal","scale":{"domain":["春","夏","秋","冬","枯水期","枯→丰","丰水期","丰→枯"],"range":["#e3171c","#3f5217","#2a8ad8","#5a4545","#e3171c","#3f5217","#2a8ad8","#5a4545"]},"legend":null}}},
{"data":{"name":"box"},"transform":[{"filter":"datum.p=='d'"}],"mark":{"type":"tick","thickness":1.5,"size":16,"color":"#333333"},"encoding":{"y":{"field":"med","type":"quantitative"}}}
]},
{"width":139,"height":114,
"title":{"text":"(e)J2","anchor":"end","frame":"group","offset":-15,"dx":-3},
"encoding":{"x":{"field":"c","type":"nominal","sort":null,"scale":{"domain":["枯水期","枯→丰","丰水期","丰→枯"],"paddingInner":0,"paddingOuter":0},"axis":{"title":null,"labelAngle":0}}},
"layer":[
{"data":{"name":"box"},"transform":[{"filter":"datum.p=='e'"}],"mark":{"type":"rule","strokeWidth":1},"encoding":{"y":{"field":"lo","type":"quantitative","scale":{"domain":[-12.5,-11.45],"nice":false,"zero":false},"axis":{"title":"δ¹⁸O(‰)","values":[-11.6,-11.8,-12.0,-12.2,-12.4],"tickCount":30,"format":".1f","labelOverlap":false}},"y2":{"field":"hi"},"stroke":{"field":"c","type":"nominal","scale":{"domain":["春","夏","秋","冬","枯水期","枯→丰","丰水期","丰→枯"],"range":["#f0494c","#5f6e3c","#5aa8e6","#857272","#f0494c","#5f6e3c","#5aa8e6","#857272"]},"legend":null}}},
{"data":{"name":"box"},"transform":[{"filter":"datum.p=='e'"}],"mark":{"type":"tick","thickness":1,"size":6},"encoding":{"y":{"field":"lo","type":"quantitative"},"fill":{"field":"c","type":"nominal","scale":{"domain":["春","夏","秋","冬","枯水期","枯→丰","丰水期","丰→枯"],"range":["#f0494c","#5f6e3c","#5aa8e6","#857272","#f0494c","#5f6e3c","#5aa8e6","#857272"]},"legend":null}}},
{"data":{"name":"box"},"transform":[{"filter":"datum.p=='e'"}],"mark":{"type":"tick","thickness":1,"size":6},"encoding":{"y":{"field":"hi","type":"quantitative"},"fill":{"field":"c","type":"nominal","legend":null}}},
{"data":{"name":"box"},"transform":[{"filter":"datum.p=='e'"}],"mark":{"type":"bar","fill":"white","strokeWidth":1,"width":{"band":0.46}},"encoding":{"y":{"field":"q1","type":"quantitative"},"y2":{"field":"q3"},"stroke":{"field":"c","type":"nominal","legend":null}}},
{"data":{"name":"pts"},"transform":[{"filter":"datum.p=='e'"}],"mark":{"type":"circle","size":9,"opacity":0.95},"encoding":{"y":{"field":"v","type":"quantitative"},"xOffset":{"field":"i","type":"nominal","scale":{"domain":[16,8,12,4,18,10,2,14,6,20,1,15,7,11,3,19,9,13,5,17],"range":[11,24]}},"color":{"field":"c","type":"nominal","scale":{"domain":["春","夏","秋","冬","枯水期","枯→丰","丰水期","丰→枯"],"range":["#e3171c","#3f5217","#2a8ad8","#5a4545","#e3171c","#3f5217","#2a8ad8","#5a4545"]},"legend":null}}},
{"data":{"name":"box"},"transform":[{"filter":"datum.p=='e'"}],"mark":{"type":"tick","thickness":1.5,"size":16,"color":"#333333"},"encoding":{"y":{"field":"med","type":"quantitative"}}}
]},
{"width":139,"height":114,
"title":{"text":"(f)溪水","anchor":"end","frame":"group","offset":-15,"dx":-3},
"encoding":{"x":{"field":"c","type":"nominal","sort":null,"scale":{"domain":["枯水期","枯→丰","丰水期","丰→枯"],"paddingInner":0,"paddingOuter":0},"axis":{"title":null,"labelAngle":0}}},
"layer":[
{"data":{"name":"box"},"transform":[{"filter":"datum.p=='f'"}],"mark":{"type":"rule","strokeWidth":1},"encoding":{"y":{"field":"lo","type":"quantitative","scale":{"domain":[-12.8,-10.73],"nice":false,"zero":false},"axis":{"title":null,"values":[-10.8,-11.2,-11.6,-12.0,-12.4,-12.8],"tickCount":30,"format":".1f","labelOverlap":false}},"y2":{"field":"hi"},"stroke":{"field":"c","type":"nominal","scale":{"domain":["春","夏","秋","冬","枯水期","枯→丰","丰水期","丰→枯"],"range":["#f0494c","#5f6e3c","#5aa8e6","#857272","#f0494c","#5f6e3c","#5aa8e6","#857272"]},"legend":null}}},
{"data":{"name":"box"},"transform":[{"filter":"datum.p=='f'"}],"mark":{"type":"tick","thickness":1,"size":6},"encoding":{"y":{"field":"lo","type":"quantitative"},"fill":{"field":"c","type":"nominal","scale":{"domain":["春","夏","秋","冬","枯水期","枯→丰","丰水期","丰→枯"],"range":["#f0494c","#5f6e3c","#5aa8e6","#857272","#f0494c","#5f6e3c","#5aa8e6","#857272"]},"legend":null}}},
{"data":{"name":"box"},"transform":[{"filter":"datum.p=='f'"}],"mark":{"type":"tick","thickness":1,"size":6},"encoding":{"y":{"field":"hi","type":"quantitative"},"fill":{"field":"c","type":"nominal","legend":null}}},
{"data":{"name":"box"},"transform":[{"filter":"datum.p=='f'"}],"mark":{"type":"bar","fill":"white","strokeWidth":1,"width":{"band":0.46}},"encoding":{"y":{"field":"q1","type":"quantitative"},"y2":{"field":"q3"},"stroke":{"field":"c","type":"nominal","legend":null}}},
{"data":{"name":"pts"},"transform":[{"filter":"datum.p=='f'"}],"mark":{"type":"circle","size":9,"opacity":0.95},"encoding":{"y":{"field":"v","type":"quantitative"},"xOffset":{"field":"i","type":"nominal","scale":{"domain":[16,8,12,4,18,10,2,14,6,20,1,15,7,11,3,19,9,13,5,17],"range":[11,24]}},"color":{"field":"c","type":"nominal","scale":{"domain":["春","夏","秋","冬","枯水期","枯→丰","丰水期","丰→枯"],"range":["#e3171c","#3f5217","#2a8ad8","#5a4545","#e3171c","#3f5217","#2a8ad8","#5a4545"]},"legend":null}}},
{"data":{"name":"box"},"transform":[{"filter":"datum.p=='f'"}],"mark":{"type":"tick","thickness":1.5,"size":16,"color":"#333333"},"encoding":{"y":{"field":"med","type":"quantitative"}}}
]},
{"width":139,"height":114,
"title":{"text":"(g)泉水","anchor":"end","frame":"group","offset":-15,"dx":-3},
"encoding":{"x":{"field":"c","type":"nominal","sort":null,"scale":{"domain":["枯水期","枯→丰","丰水期","丰→枯"],"paddingInner":0,"paddingOuter":0},"axis":{"title":null,"labelAngle":0}}},
"layer":[
{"data":{"name":"box"},"transform":[{"filter":"datum.p=='g'"}],"mark":{"type":"rule","strokeWidth":1},"encoding":{"y":{"field":"lo","type":"quantitative","scale":{"domain":[-13.0,-11.88],"nice":false,"zero":false},"axis":{"title":null,"values":[-12.0,-12.2,-12.4,-12.6,-12.8,-13.0],"tickCount":30,"format":".1f","labelOverlap":false}},"y2":{"field":"hi"},"stroke":{"field":"c","type":"nominal","scale":{"domain":["春","夏","秋","冬","枯水期","枯→丰","丰水期","丰→枯"],"range":["#f0494c","#5f6e3c","#5aa8e6","#857272","#f0494c","#5f6e3c","#5aa8e6","#857272"]},"legend":null}}},
{"data":{"name":"box"},"transform":[{"filter":"datum.p=='g'"}],"mark":{"type":"tick","thickness":1,"size":6},"encoding":{"y":{"field":"lo","type":"quantitative"},"fill":{"field":"c","type":"nominal","scale":{"domain":["春","夏","秋","冬","枯水期","枯→丰","丰水期","丰→枯"],"range":["#f0494c","#5f6e3c","#5aa8e6","#857272","#f0494c","#5f6e3c","#5aa8e6","#857272"]},"legend":null}}},
{"data":{"name":"box"},"transform":[{"filter":"datum.p=='g'"}],"mark":{"type":"tick","thickness":1,"size":6},"encoding":{"y":{"field":"hi","type":"quantitative"},"fill":{"field":"c","type":"nominal","legend":null}}},
{"data":{"name":"box"},"transform":[{"filter":"datum.p=='g'"}],"mark":{"type":"bar","fill":"white","strokeWidth":1,"width":{"band":0.46}},"encoding":{"y":{"field":"q1","type":"quantitative"},"y2":{"field":"q3"},"stroke":{"field":"c","type":"nominal","legend":null}}},
{"data":{"name":"pts"},"transform":[{"filter":"datum.p=='g'"}],"mark":{"type":"circle","size":9,"opacity":0.95},"encoding":{"y":{"field":"v","type":"quantitative"},"xOffset":{"field":"i","type":"nominal","scale":{"domain":[16,8,12,4,18,10,2,14,6,20,1,15,7,11,3,19,9,13,5,17],"range":[11,24]}},"color":{"field":"c","type":"nominal","scale":{"domain":["春","夏","秋","冬","枯水期","枯→丰","丰水期","丰→枯"],"range":["#e3171c","#3f5217","#2a8ad8","#5a4545","#e3171c","#3f5217","#2a8ad8","#5a4545"]},"legend":null}}},
{"data":{"name":"box"},"transform":[{"filter":"datum.p=='g'"}],"mark":{"type":"tick","thickness":1.5,"size":16,"color":"#333333"},"encoding":{"y":{"field":"med","type":"quantitative"}}}
]},
{"width":139,"height":114,
"title":{"text":"(h)河水","anchor":"start","frame":"group","offset":-15,"dx":4},
"encoding":{"x":{"field":"c","type":"nominal","sort":null,"scale":{"domain":["枯水期","枯→丰","丰水期","丰→枯"],"paddingInner":0,"paddingOuter":0},"axis":{"title":null,"labelAngle":0}}},
"layer":[
{"data":{"name":"box"},"transform":[{"filter":"datum.p=='h'"}],"mark":{"type":"rule","strokeWidth":1},"encoding":{"y":{"field":"lo","type":"quantitative","scale":{"domain":[-13.24,-11.24],"nice":false,"zero":false},"axis":{"title":null,"values":[-11.5,-12.0,-12.5,-13.0],"tickCount":30,"format":".1f","labelOverlap":false}},"y2":{"field":"hi"},"stroke":{"field":"c","type":"nominal","scale":{"domain":["春","夏","秋","冬","枯水期","枯→丰","丰水期","丰→枯"],"range":["#f0494c","#5f6e3c","#5aa8e6","#857272","#f0494c","#5f6e3c","#5aa8e6","#857272"]},"legend":null}}},
{"data":{"name":"box"},"transform":[{"filter":"datum.p=='h'"}],"mark":{"type":"tick","thickness":1,"size":6},"encoding":{"y":{"field":"lo","type":"quantitative"},"fill":{"field":"c","type":"nominal","scale":{"domain":["春","夏","秋","冬","枯水期","枯→丰","丰水期","丰→枯"],"range":["#f0494c","#5f6e3c","#5aa8e6","#857272","#f0494c","#5f6e3c","#5aa8e6","#857272"]},"legend":null}}},
{"data":{"name":"box"},"transform":[{"filter":"datum.p=='h'"}],"mark":{"type":"tick","thickness":1,"size":6},"encoding":{"y":{"field":"hi","type":"quantitative"},"fill":{"field":"c","type":"nominal","legend":null}}},
{"data":{"name":"box"},"transform":[{"filter":"datum.p=='h'"}],"mark":{"type":"bar","fill":"white","strokeWidth":1,"width":{"band":0.46}},"encoding":{"y":{"field":"q1","type":"quantitative"},"y2":{"field":"q3"},"stroke":{"field":"c","type":"nominal","legend":null}}},
{"data":{"name":"pts"},"transform":[{"filter":"datum.p=='h'"}],"mark":{"type":"circle","size":9,"opacity":0.95},"encoding":{"y":{"field":"v","type":"quantitative"},"xOffset":{"field":"i","type":"nominal","scale":{"domain":[16,8,12,4,18,10,2,14,6,20,1,15,7,11,3,19,9,13,5,17],"range":[11,24]}},"color":{"field":"c","type":"nominal","scale":{"domain":["春","夏","秋","冬","枯水期","枯→丰","丰水期","丰→枯"],"range":["#e3171c","#3f5217","#2a8ad8","#5a4545","#e3171c","#3f5217","#2a8ad8","#5a4545"]},"legend":null}}},
{"data":{"name":"box"},"transform":[{"filter":"datum.p=='h'"}],"mark":{"type":"tick","thickness":1.5,"size":16,"color":"#333333"},"encoding":{"y":{"field":"med","type":"quantitative"}}}
]}
],
"config":{
"locale":{"number":{"decimal":".","thousands":",","grouping":[3],"currency":["",""],"minus":"-"}},
"font":"Liberation Serif, Noto Sans CJK SC",
"view":{"stroke":"#3c3c3c","strokeWidth":1},
"axis":{"grid":false,"domain":false,"labelOverlap":false,"tickColor":"#3c3c3c","tickSize":-3,"labelPadding":6,"labelFont":"Liberation Serif, Noto Sans CJK SC","labelFontSize":10,"labelColor":"#222222","titleFont":"Liberation Serif, Noto Sans CJK SC","titleFontSize":11,"titleFontWeight":"normal","titleColor":"#222222","titlePadding":3},
"axisX":{"labelFontSize":9},
"title":{"font":"Liberation Serif, Noto Sans CJK SC","fontSize":10.5,"fontWeight":"normal","color":"#222222"}
}
}
